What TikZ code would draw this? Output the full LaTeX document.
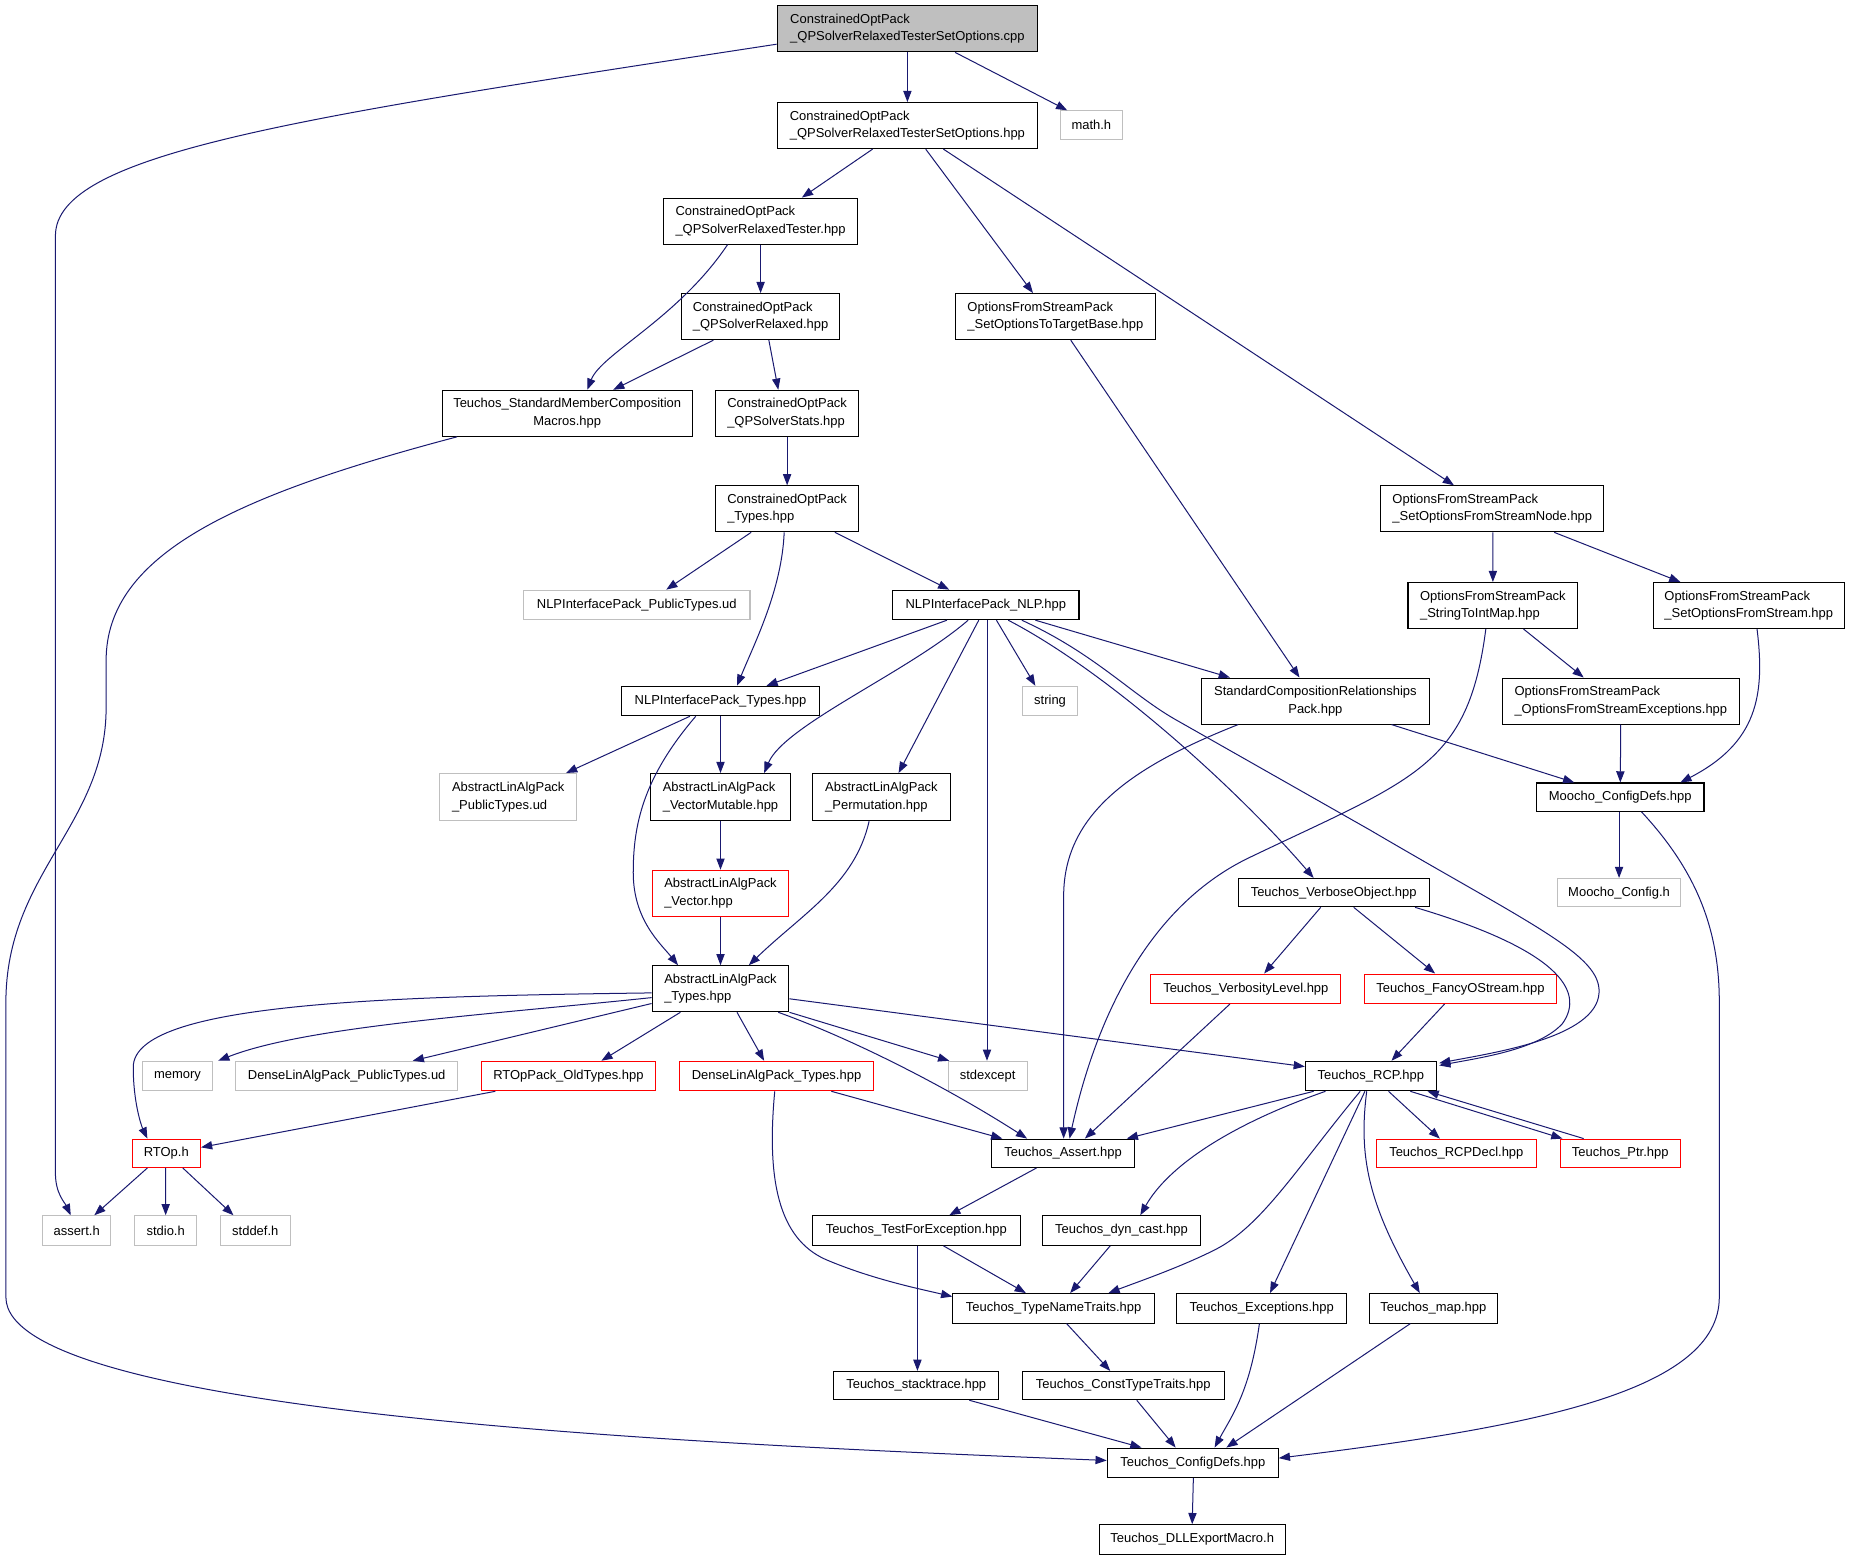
\documentclass[tikz,border=0pt]{standalone}
\usepackage{fontspec}
\setmainfont{Liberation Sans}
\usetikzlibrary{arrows.meta,calc}
\definecolor{edgecol}{HTML}{191970}
\definecolor{graybd}{HTML}{BFBFBF}
\definecolor{topfill}{HTML}{BFBFBF}
\tikzset{
  nbase/.style={draw, line width=0.9bp, fill=white, inner sep=0pt, text=black,
    font=\fontsize{11bp}{14.7bp}\selectfont, align=left},
  nblack/.style={nbase, draw=black},
  nred/.style={nbase, draw=red},
  ngray/.style={nbase, draw=graybd},
  ntop/.style={nbase, draw=black, fill=topfill},
  ncenter/.style={nblack, align=center},
  edge/.style={draw=edgecol, line width=0.85bp, -{Triangle[length=9.5bp,width=7bp]}}
}
\newcommand\gnode[7]{\node[#6, minimum width=#4bp, minimum height=#5bp] (#1) at (#2,#3) {#7};}
\begin{document}
\begin{tikzpicture}[x=1bp,y=-1bp]
\fill[white] (0,0) rectangle (1568,1323);
\useasboundingbox (0,0) rectangle (1568,1323);
% nodes
\gnode{n1}{769.5}{24.5}{221}{39}{ntop}{ConstrainedOptPack\\\_QPSolverRelaxedTesterSetOptions.cpp}
\gnode{n2}{769.5}{106.5}{221}{39}{nblack}{ConstrainedOptPack\\\_QPSolverRelaxedTesterSetOptions.hpp}
\gnode{mathh}{925.5}{106}{53}{24}{ngray}{math.h}
\gnode{n3}{645}{187.5}{164}{39}{nblack}{ConstrainedOptPack\\\_QPSolverRelaxedTester.hpp}
\gnode{n4}{645}{268.5}{134}{39}{nblack}{ConstrainedOptPack\\\_QPSolverRelaxed.hpp}
\gnode{n5}{895}{268.5}{170}{39}{nblack}{OptionsFromStreamPack\\\_SetOptionsToTargetBase.hpp}
\gnode{n6}{481}{350.5}{212}{39}{ncenter}{Teuchos\_StandardMemberComposition\\Macros.hpp}
\gnode{n7}{667.5}{350.5}{121}{39}{nblack}{ConstrainedOptPack\\\_QPSolverStats.hpp}
\gnode{n8}{667.5}{431.5}{121}{39}{nblack}{ConstrainedOptPack\\\_Types.hpp}
\gnode{n9}{1265.5}{431.5}{189}{39}{nblack}{OptionsFromStreamPack\\\_SetOptionsFromStreamNode.hpp}
\gnode{n10}{540}{513}{192}{25}{ngray}{NLPInterfacePack\_PublicTypes.ud}
\gnode{n11}{836}{513}{158}{25}{nblack}{NLPInterfacePack\_NLP.hpp}
\gnode{n12}{1266}{513.5}{144}{39}{nblack}{OptionsFromStreamPack\\\_StringToIntMap.hpp}
\gnode{n13}{1483}{513.5}{162}{39}{nblack}{OptionsFromStreamPack\\\_SetOptionsFromStream.hpp}
\gnode{n14}{611}{594.5}{168}{25}{nblack}{NLPInterfacePack\_Types.hpp}
\gnode{n15}{890.5}{594.5}{47}{25}{ngray}{string}
\gnode{n16}{1115.5}{594.5}{193}{39}{ncenter}{StandardCompositionRelationships\\Pack.hpp}
\gnode{n17}{1374.5}{594.5}{201}{39}{nblack}{OptionsFromStreamPack\\\_OptionsFromStreamExceptions.hpp}
\gnode{n18}{431}{676}{116}{40}{ngray}{AbstractLinAlgPack\\\_PublicTypes.ud}
\gnode{n19}{611}{676}{118}{40}{nblack}{AbstractLinAlgPack\\\_VectorMutable.hpp}
\gnode{n20}{747.5}{676}{117}{40}{nblack}{AbstractLinAlgPack\\\_Permutation.hpp}
\gnode{n21}{1374}{676}{142}{24}{nblack}{Moocho\_ConfigDefs.hpp}
\gnode{n22}{611}{757.5}{116}{39}{nred}{AbstractLinAlgPack\\\_Vector.hpp}
\gnode{n23}{1131}{757}{162}{24}{nblack}{Teuchos\_VerboseObject.hpp}
\gnode{n24}{1373}{757}{104}{24}{ngray}{Moocho\_Config.h}
\gnode{n25}{611}{838.5}{116}{39}{nblack}{AbstractLinAlgPack\\\_Types.hpp}
\gnode{n26}{1056.5}{838.5}{161}{25}{nred}{Teuchos\_VerbosityLevel.hpp}
\gnode{n27}{1238.5}{838.5}{163}{25}{nred}{Teuchos\_FancyOStream.hpp}
\gnode{n28}{150.5}{912.5}{59}{25}{ngray}{memory}
\gnode{n29}{294}{912.5}{188}{25}{ngray}{DenseLinAlgPack\_PublicTypes.ud}
\gnode{n30}{482}{912.5}{148}{25}{nred}{RTOpPack\_OldTypes.hpp}
\gnode{n31}{658.5}{912.5}{165}{25}{nred}{DenseLinAlgPack\_Types.hpp}
\gnode{n32}{837.5}{912.5}{67}{25}{ngray}{stdexcept}
\gnode{n33}{1162.5}{912.5}{111}{25}{nblack}{Teuchos\_RCP.hpp}
\gnode{n34}{141}{978}{58}{24}{nred}{RTOp.h}
\gnode{n35}{901.5}{978}{121}{24}{nblack}{Teuchos\_Assert.hpp}
\gnode{n36}{1235}{978}{136}{24}{nred}{Teuchos\_RCPDecl.hpp}
\gnode{n37}{1374}{978}{102}{24}{nred}{Teuchos\_Ptr.hpp}
\gnode{n38}{65}{1043.5}{58}{25}{ngray}{assert.h}
\gnode{n39}{140.5}{1043.5}{53}{25}{ngray}{stdio.h}
\gnode{n40}{216.5}{1043.5}{59}{25}{ngray}{stddef.h}
\gnode{n41}{777}{1043.5}{176}{25}{nblack}{Teuchos\_TestForException.hpp}
\gnode{n42}{951}{1043.5}{134}{25}{nblack}{Teuchos\_dyn\_cast.hpp}
\gnode{n43}{893.5}{1109.5}{171}{25}{nblack}{Teuchos\_TypeNameTraits.hpp}
\gnode{n44}{1070}{1109.5}{144}{25}{nblack}{Teuchos\_Exceptions.hpp}
\gnode{n45}{1215.5}{1109.5}{109}{25}{nblack}{Teuchos\_map.hpp}
\gnode{n46}{777}{1175}{140}{24}{nblack}{Teuchos\_stacktrace.hpp}
\gnode{n47}{952.5}{1175}{171}{24}{nblack}{Teuchos\_ConstTypeTraits.hpp}
\gnode{n48}{1011.5}{1240.5}{145}{25}{nblack}{Teuchos\_ConfigDefs.hpp}
\gnode{n49}{1011}{1305.5}{158}{25}{nblack}{Teuchos\_DLLExportMacro.h}
% edges
\draw[edge] ($(n1.west)+(0,13)$) .. controls (250,100) and (47,130) .. (47,200) -- (47,995) .. controls (47,1012) and (55,1020) .. ($(n38.north)+(-5,0)$);
\draw[edge] (n1) -- (n2);
\draw[edge] ($(n1.south)+(40.5,0)$) -- ($(mathh.north)+(-20.5,0)$);
\draw[edge] ($(n2.south)+(-29.5,0)$) -- ($(n3.north)+(35,0)$);
\draw[edge] ($(n2.south)+(15.5,0)$) -- ($(n5.north)+(-19,0)$);
\draw[edge] ($(n2.south)+(30.5,0)$) -- ($(n9.north)+(-32.5,0)$);
\draw[edge] (n3) -- (n4);
\draw[edge] ($(n3.south)+(-28,0)$) .. controls (575,270) and (510,300) .. ($(n6.north)+(17,0)$);
\draw[edge] ($(n4.south)+(-40,0)$) -- ($(n6.north)+(39,0)$);
\draw[edge] ($(n4.south)+(7,0)$) -- ($(n7.north)+(-7.5,0)$);
\draw[edge] ($(n5.south)+(13,0)$) -- ($(n16.north)+(-13.5,0)$);
\draw[edge] ($(n6.south west)+(13,0)$) .. controls (200,420) and (90,470) .. (90,560) -- (90,600) .. controls (90,700) and (5,740) .. (5,850) -- (5,1100) .. controls (5,1200) and (600,1225) .. ($(n48.west)+(0,-2)$);
\draw[edge] (n7) -- (n8);
\draw[edge] ($(n8.south)+(-30.5,0)$) -- ($(n10.north)+(25,0)$);
\draw[edge] ($(n8.south)+(-2.5,0)$) .. controls (663,500) and (640,545) .. ($(n14.north)+(14,0)$);
\draw[edge] ($(n8.south)+(40.5,0)$) -- ($(n11.north)+(-31,0)$);
\draw[edge] ($(n9.south)+(0.5,0)$) -- (n12.north);
\draw[edge] ($(n9.south)+(52.5,0)$) -- ($(n13.north)+(-58,0)$);
\draw[edge] ($(n11.south)+(-33,0)$) -- ($(n14.north)+(39,0)$);
\draw[edge] ($(n11.south)+(-15,0)$) .. controls (770,570) and (665,615) .. ($(n19.north)+(37,0)$);
\draw[edge] ($(n11.south)+(-6,0)$) -- ($(n20.north)+(14.5,0)$);
\draw[edge] ($(n11.south)+(1,0)$) -- ($(n32.north)+(-0.5,0)$);
\draw[edge] ($(n11.south)+(9,0)$) -- ($(n15.north)+(-12.5,0)$);
\draw[edge] ($(n11.south)+(19,0)$) .. controls (940,570) and (1050,670) .. ($(n23.north)+(-17,0)$);
\draw[edge] ($(n11.south)+(30.5,0)$) .. controls (930,555) and (960,590) .. (1000,612) -- (1162,704) .. controls (1300,785) and (1358,810) .. (1356,842) .. controls (1354,880) and (1265,893) .. ($(n33.north east)+(2,2)$);
\draw[edge] ($(n11.south)+(42,0)$) -- ($(n16.north)+(-72.5,0)$);
\draw[edge] ($(n12.south)+(26,0)$) -- ($(n17.north)+(-31.5,0)$);
\draw[edge] ($(n12.south)+(-6,0)$) .. controls (1245,650) and (1200,660) .. (1060,727) .. controls (976,767) and (930,860) .. ($(n35.north)+(5.5,0)$);
\draw[edge] ($(n13.south)+(7,0)$) .. controls (1497,590) and (1490,630) .. ($(n21.north)+(51,0)$);
\draw[edge] ($(n14.south)+(-26,0)$) -- ($(n18.north)+(49,0)$);
\draw[edge] (n14) -- (n19);
\draw[edge] ($(n14.south)+(-21,0)$) .. controls (545,660) and (537,700) .. (537,740) .. controls (537,780) and (560,800) .. ($(n25.north)+(-36,0)$);
\draw[edge] ($(n16.south)+(64.5,0)$) -- ($(n21.north)+(-39,0)$);
\draw[edge] ($(n16.south)+(-65.5,0)$) .. controls (960,650) and (902,690) .. (902,760) -- ($(n35.north)+(0.5,0)$);
\draw[edge] (n17) -- (n21);
\draw[edge] ($(n21.south)+(-1,0)$) -- (n24.north);
\draw[edge] ($(n21.south)+(18,0)$) .. controls (1440,740) and (1458,790) .. (1458,850) -- (1458,1100) .. controls (1458,1180) and (1300,1210) .. ($(n48.east)+(0,-4)$);
\draw[edge] (n19) -- (n22);
\draw[edge] ($(n20.south)+(-10.5,0)$) .. controls (725,750) and (680,775) .. ($(n25.north)+(24,0)$);
\draw[edge] (n22) -- (n25);
\draw[edge] ($(n23.south)+(-11,0)$) -- ($(n26.north)+(15.5,0)$);
\draw[edge] ($(n23.south)+(17,0)$) -- ($(n27.north)+(-21.5,0)$);
\draw[edge] ($(n23.south)+(69,0)$) .. controls (1320,805) and (1345,840) .. (1325,868) .. controls (1305,890) and (1255,897) .. ($(n33.north east)+(2,4)$);
\draw[edge] ($(n26.south)+(-13.5,0)$) -- ($(n35.north)+(18.5,0)$);
\draw[edge] ($(n27.south)+(-13.5,0)$) -- ($(n33.north)+(17.5,0)$);
\draw[edge] ($(n25.west)+(0,3.5)$) .. controls (330,845) and (113,850) .. (113,905) .. controls (113,935) and (120,955) .. ($(n34.north)+(-16,0)$);
\draw[edge] ($(n25.west)+(0,7.5)$) .. controls (420,860) and (260,870) .. ($(n28.north)+(34.5,0)$);
\draw[edge] ($(n25.west)+(0,12.5)$) -- ($(n29.north)+(56,0)$);
\draw[edge] ($(n25.south)+(-34,0)$) -- ($(n30.north)+(28,0)$);
\draw[edge] ($(n25.south)+(14,0)$) -- ($(n31.north)+(-10.5,0)$);
\draw[edge] ($(n25.south)+(49,0)$) .. controls (720,880) and (800,920) .. ($(n35.north)+(-30.5,0)$);
\draw[edge] (n25.south east) -- ($(n32.north)+(-32.5,0)$);
\draw[edge] ($(n25.east)+(0,8.5)$) -- ($(n33.west)+(0,-8)$);
\draw[edge] ($(n30.south)+(-62,0)$) -- ($(n34.east)+(0,-5)$);
\draw[edge] ($(n31.south)+(46.5,0)$) -- ($(n35.north)+(-51.5,0)$);
\draw[edge] ($(n31.south)+(-1.5,0)$) .. controls (650,1000) and (660,1050) .. (700,1068) .. controls (740,1085) and (780,1093) .. ($(n43.north west)+(0,3)$);
\draw[edge] ($(n34.south)+(-16,0)$) -- ($(n38.north)+(15,0)$);
\draw[edge] ($(n34.south)+(-0.5,0)$) -- (n39.north);
\draw[edge] ($(n34.south)+(14,0)$) -- ($(n40.north)+(-18.5,0)$);
\draw[edge] ($(n33.south)+(-48.5,0)$) -- ($(n35.north)+(54,0)$);
\draw[edge] ($(n33.south)+(15,0)$) -- ($(n36.north)+(-14,0)$);
\draw[edge] ($(n33.south)+(33.5,0)$) -- ($(n37.north)+(-49,0)$);
\draw[edge] ($(n37.north)+(-31,0)$) -- ($(n33.south)+(48,0)$);
\draw[edge] ($(n33.south)+(-38.5,0)$) .. controls (1040,955) and (990,990) .. ($(n42.north)+(16,0)$);
\draw[edge] ($(n33.south)+(-9,0)$) .. controls (1100,990) and (1070,1040) .. (1030,1060) .. controls (1000,1075) and (965,1087) .. ($(n43.north)+(46.5,0)$);
\draw[edge] ($(n33.south)+(-5,0)$) -- ($(n44.north)+(7,0)$);
\draw[edge] ($(n33.south)+(-3.5,0)$) .. controls (1152,980) and (1160,1020) .. ($(n45.north)+(-11.5,0)$);
\draw[edge] ($(n35.south)+(-22.5,0)$) -- ($(n41.north)+(28,0)$);
\draw[edge] ($(n41.south)+(23,0)$) -- ($(n43.north)+(-23.5,0)$);
\draw[edge] ($(n41.south)+(1,0)$) -- ($(n46.north)+(1,0)$);
\draw[edge] ($(n42.south)+(-9.5,0)$) -- ($(n43.north)+(14,0)$);
\draw[edge] ($(n43.south)+(11,0)$) -- ($(n47.north)+(-11,0)$);
\draw[edge] ($(n44.south)+(-2,0)$) .. controls (1060,1180) and (1045,1200) .. ($(n48.north)+(18.5,0)$);
\draw[edge] ($(n45.south)+(-19.5,0)$) -- ($(n48.north)+(28.5,0)$);
\draw[edge] ($(n46.south)+(45,0)$) -- ($(n48.north)+(-43.5,0)$);
\draw[edge] ($(n47.south)+(11.5,0)$) -- ($(n48.north)+(-14.5,0)$);
\draw[edge] ($(n48.south)+(0.5,0)$) -- (n49.north);
\end{tikzpicture}
\end{document}
